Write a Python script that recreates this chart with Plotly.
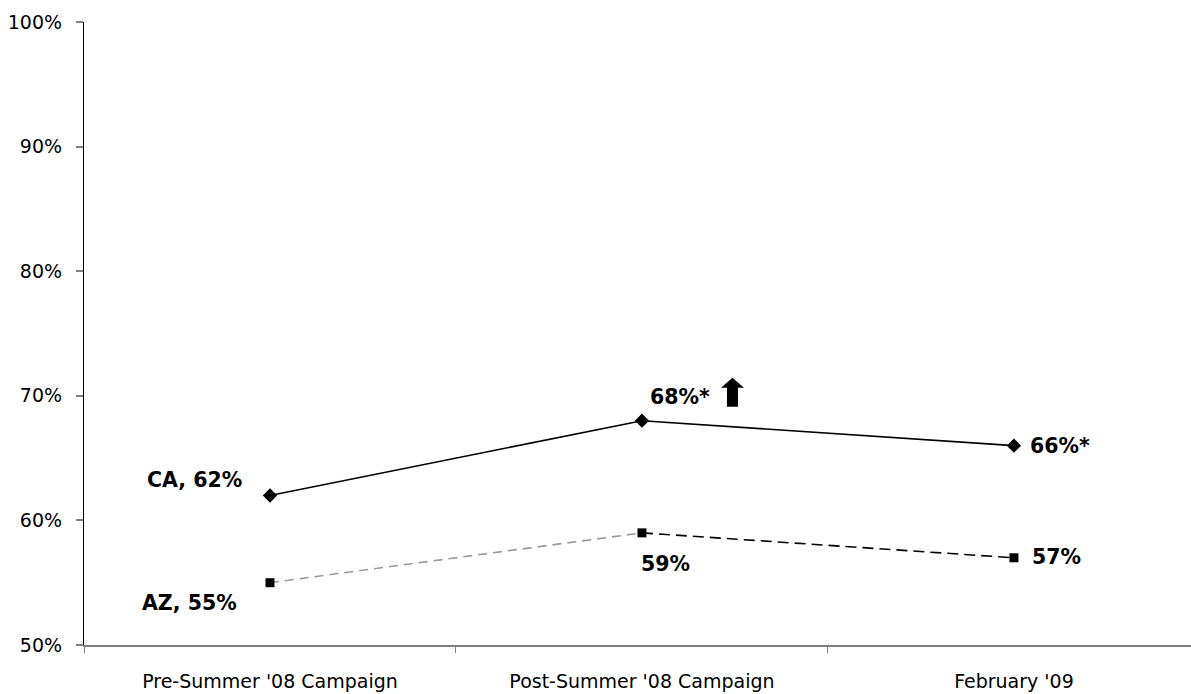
import plotly.graph_objects as go

categories = ["Pre-Summer '08 Campaign", "Post-Summer '08 Campaign", "February '09"]
ca_values = [62, 68, 66]
az_values = [55, 59, 57]
ca_labels = ["CA, 62%", "68%*", "66%*"]
az_labels = ["AZ, 55%", "59%", "57%"]
y_ticks = [50, 60, 70, 80, 90, 100]
y_ticktext = ["50%", "60%", "70%", "80%", "90%", "100%"]

fig = go.Figure()

# CA solid line
fig.add_trace(go.Scatter(
    x=categories, y=ca_values, mode="lines+markers",
    line=dict(color="black", width=1.6),
    marker=dict(symbol="diamond", size=11, color="black"),
    showlegend=False, hoverinfo="skip"))

# AZ segment 1 (grey dashed)
fig.add_trace(go.Scatter(
    x=categories[0:2], y=az_values[0:2], mode="lines",
    line=dict(color="#9a9a9a", width=1.6, dash="9px,6px"),
    showlegend=False, hoverinfo="skip"))
# AZ segment 2 (black dashed)
fig.add_trace(go.Scatter(
    x=categories[1:3], y=az_values[1:3], mode="lines",
    line=dict(color="black", width=1.6, dash="11px,6px"),
    showlegend=False, hoverinfo="skip"))
# AZ markers
fig.add_trace(go.Scatter(
    x=categories, y=az_values, mode="markers",
    marker=dict(symbol="square", size=9, color="black"),
    showlegend=False, hoverinfo="skip"))

lab_font = dict(family="DejaVu Sans", size=20.5, color="black")

def lab(x, y, text, xanchor, xshift, yshift):
    fig.add_annotation(x=x, y=y, text="<b>" + text + "</b>", showarrow=False,
                       xanchor=xanchor, yanchor="middle", xshift=xshift, yshift=yshift,
                       font=lab_font)

lab(categories[0], ca_values[0], ca_labels[0], "right", -26, 15)
lab(categories[1], ca_values[1], ca_labels[1], "left", 6, 24)
lab(categories[2], ca_values[2], ca_labels[2], "left", 14, 0)
lab(categories[0], az_values[0], az_labels[0], "right", -31, -20)
lab(categories[1], az_values[1], az_labels[1], "left", -3, -31)
lab(categories[2], az_values[2], az_labels[2], "left", 16, 1)

# Up arrow next to 68%*
fig.add_shape(type="path", xref="x", yref="y",
              xsizemode="pixel", ysizemode="pixel",
              xanchor=categories[1], yanchor=ca_values[1],
              path="M 85 14 L 96 14 L 96 33 L 102 33 L 90.5 43 L 79 33 L 85 33 Z",
              fillcolor="black", line=dict(color="black", width=0))

fig.update_layout(
    width=1191, height=694,
    margin=dict(l=84, r=0, t=22, b=49),
    plot_bgcolor="white", paper_bgcolor="white",
    font=dict(family="DejaVu Sans", size=17, color="black"),
)
fig.update_xaxes(
    type="category", range=[-0.5, 2.476],
    showline=True, linecolor="#808080", linewidth=2,
    ticks="outside", tickson="boundaries", ticklen=6, tickcolor="#808080", tickwidth=1,
    showgrid=False, zeroline=False,
    tickfont=dict(family="DejaVu Sans", size=19, color="black"),
    ticklabelstandoff=18,
)
fig.update_yaxes(
    range=[50, 100], tickvals=y_ticks, ticktext=y_ticktext,
    showline=True, linecolor="black", linewidth=1.2,
    ticks="outside", ticklen=7, tickcolor="#808080", tickwidth=1.5,
    showgrid=False, zeroline=False,
    tickfont=dict(family="DejaVu Sans", size=19, color="black"),
    ticklabelstandoff=10,
)

fig.write_html("out.html")
